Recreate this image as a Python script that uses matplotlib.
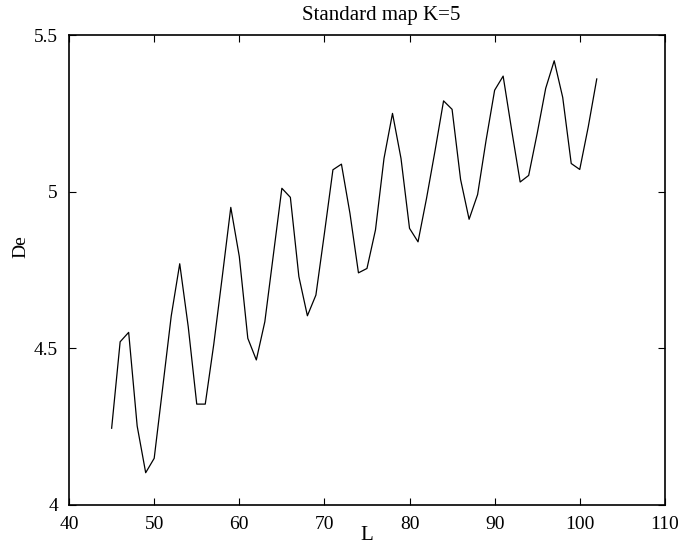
import matplotlib
matplotlib.use("Agg")
import matplotlib.pyplot as plt

# values
L = list(range(45, 103))
De = [4.245, 4.521, 4.551, 4.252, 4.103, 4.149, 4.375, 4.603, 4.770, 4.569,
      4.322, 4.322, 4.513, 4.729, 4.950, 4.793, 4.532, 4.463, 4.585, 4.798,
      5.011, 4.982, 4.729, 4.604, 4.670, 4.867, 5.070, 5.088, 4.931, 4.741,
      4.755, 4.878, 5.106, 5.250, 5.106, 4.883, 4.840, 4.979, 5.131, 5.290,
      5.263, 5.039, 4.912, 4.991, 5.165, 5.324, 5.369, 5.197, 5.031, 5.052,
      5.186, 5.330, 5.418, 5.301, 5.090, 5.071, 5.207, 5.360]

xticks = [40, 50, 60, 70, 80, 90, 100, 110]
yticks = [4, 4.5, 5, 5.5]
ytick_labels = ["4", "4.5", "5", "5.5"]

plt.rcParams['font.family'] = ['Liberation Serif', 'DejaVu Serif']

fig = plt.figure(figsize=(6.84, 5.48), dpi=100)
ax = fig.add_axes([0.101, 0.0785, 0.871, 0.8575])
ax.plot(L, De, color='black', linewidth=0.9)

ax.set_xlim(40, 110)
ax.set_ylim(4, 5.5)
ax.set_xticks(xticks)
ax.set_yticks(yticks)
ax.set_yticklabels(ytick_labels)
ax.tick_params(direction='in', top=True, right=True, length=5, width=0.8,
               labelsize=14, pad=8)
for s in ax.spines.values():
    s.set_linewidth(1.2)

ax.set_title('Standard map K=5', fontsize=15, pad=11, x=0.524)
ax.set_xlabel('L', fontsize=15, labelpad=-5)
ax.set_ylabel('De', fontsize=14, labelpad=3, y=0.55)

fig.savefig('out.png', dpi=100)
